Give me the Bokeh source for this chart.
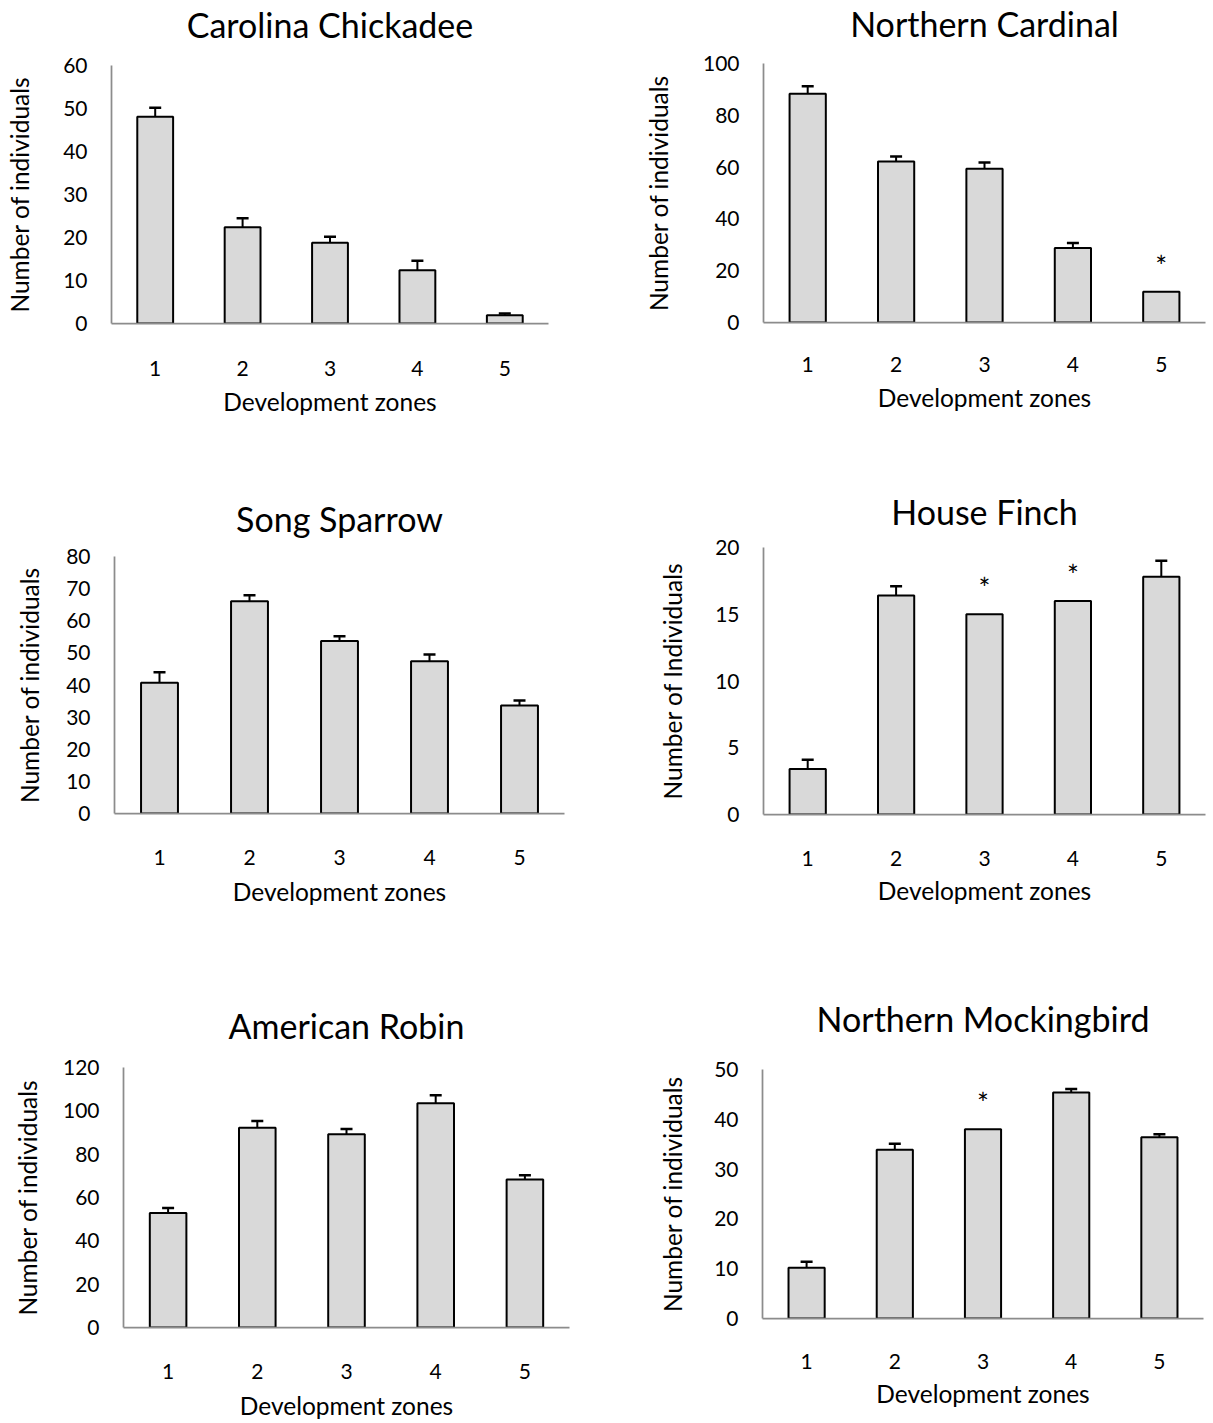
from bokeh.plotting import figure
from bokeh.layouts import column, row
from bokeh.models import Range1d, FixedTicker, Whisker, TeeHead, ColumnDataSource
from bokeh.core.properties import value
from bokeh.embed import file_html
from bokeh.resources import INLINE

# ---- data: mean counts per development zone, upper error (None = not shown) ----
zones = [1, 2, 3, 4, 5]
zone_labels = ["1", "2", "3", "4", "5"]

chickadee_mean = [48.1, 22.4, 18.8, 12.4, 1.9]
chickadee_err = [2.1, 2.1, 1.4, 2.2, 0.4]
chickadee_sig = [False, False, False, False, False]

cardinal_mean = [88.3, 62.2, 59.4, 28.8, 11.9]
cardinal_err = [2.9, 1.9, 2.4, 1.9, None]
cardinal_sig = [False, False, False, False, True]

sparrow_mean = [40.7, 66.1, 53.7, 47.4, 33.6]
sparrow_err = [3.3, 1.8, 1.5, 2.1, 1.6]
sparrow_sig = [False, False, False, False, False]

finch_mean = [3.4, 16.4, 15.0, 16.0, 17.8]
finch_err = [0.7, 0.7, None, None, 1.2]
finch_sig = [False, False, True, True, False]

robin_mean = [52.9, 92.2, 89.2, 103.5, 68.3]
robin_err = [2.3, 3.1, 2.4, 3.7, 2.0]
robin_sig = [False, False, False, False, False]

mocking_mean = [10.2, 33.9, 38.0, 45.4, 36.4]
mocking_err = [1.2, 1.2, None, 0.7, 0.6]
mocking_sig = [False, False, True, False, False]

titles = ["Carolina Chickadee", "Northern Cardinal", "Song Sparrow",
          "House Finch", "American Robin", "Northern Mockingbird"]
y_titles = ["Number of individuals", "Number of individuals", "Number of individuals",
            "Number of Individuals", "Number of individuals", "Number of individuals"]
y_max = [60, 100, 80, 20, 120, 50]
y_step = [10, 20, 10, 5, 20, 10]
x_title = "Development zones"

series = [
    (chickadee_mean, chickadee_err, chickadee_sig),
    (cardinal_mean, cardinal_err, cardinal_sig),
    (sparrow_mean, sparrow_err, sparrow_sig),
    (finch_mean, finch_err, finch_sig),
    (robin_mean, robin_err, robin_sig),
    (mocking_mean, mocking_err, mocking_sig),
]

# ---- layout: cell size, borders around the plotting frame, text standoffs (px) ----
# The first row is drawn PAGE_LIFT px taller and the page is lifted by the same
# amount, so the top titles get room above their frames.
FONT = "Lato"
PAGE_LIFT = 22
layout_cfg = [
    dict(w=606, h=470 + PAGE_LIFT, l=111, r=58, t=65 + PAGE_LIFT, b=147,
         title_so=41, tick_so=37, xlab_so=8, ylab_so=26),
    dict(w=607, h=470 + PAGE_LIFT, l=157, r=8, t=63 + PAGE_LIFT, b=148,
         title_so=40, tick_so=34, xlab_so=8, ylab_so=27),
    dict(w=606, h=490, l=114, r=42, t=86, b=147, title_so=35, tick_so=36, xlab_so=9, ylab_so=19),
    dict(w=607, h=490, l=157, r=8, t=77, b=146, title_so=32, tick_so=36, xlab_so=7, ylab_so=25),
    dict(w=606, h=463, l=123, r=37, t=107, b=96, title_so=44, tick_so=36, xlab_so=9, ylab_so=18),
    dict(w=607, h=463, l=156, r=10, t=109, b=105, title_so=61, tick_so=35, xlab_so=7, ylab_so=24),
]

AXIS_GRAY = "#8c8c8c"
BAR_FILL = "#d9d9d9"


def make_panel(i):
    mean, err, sig = series[i]
    cfg = layout_cfg[i]
    p = figure(
        width=cfg["w"], height=cfg["h"],
        x_range=Range1d(0.5, 5.5), y_range=Range1d(0, y_max[i]),
        output_backend="svg", toolbar_location=None,
        min_border_left=cfg["l"], min_border_right=cfg["r"],
        min_border_top=cfg["t"], min_border_bottom=cfg["b"],
    )
    p.background_fill_color = "white"
    p.border_fill_color = "white"
    p.outline_line_color = None
    p.xgrid.visible = False
    p.ygrid.visible = False

    p.title.text = titles[i]
    p.title.text_font = FONT
    p.title.text_font_size = "34px"
    p.title.text_font_style = "normal"
    p.title.text_color = "black"
    p.title.align = "center"
    p.title.standoff = cfg["title_so"]

    src = ColumnDataSource(dict(x=zones, top=mean))
    p.vbar(x="x", top="top", width=0.41, bottom=0, source=src,
           fill_color=BAR_FILL, line_color="black", line_width=2)

    ex = [z for z, e in zip(zones, err) if e is not None]
    lo = [m for m, e in zip(mean, err) if e is not None]
    hi = [m + e for m, e in zip(mean, err) if e is not None]
    wsrc = ColumnDataSource(dict(x=ex, lower=lo, upper=hi))
    p.add_layout(Whisker(source=wsrc, base="x", lower="lower", upper="upper",
                         dimension="height", line_color="black", line_width=2,
                         upper_head=TeeHead(size=12, line_width=2.5, line_color="black"),
                         lower_head=None, level="glyph"))

    # significance markers above the flagged bars
    sx = [z for z, s in zip(zones, sig) if s]
    sy = [m for m, s in zip(mean, sig) if s]
    if sx:
        p.text(x=sx, y=sy, text=["*"] * len(sx), y_offset=-26,
               text_align="center", text_baseline="middle",
               text_font=value(FONT), text_font_size="28px", text_color="black")

    for ax in (p.xaxis[0], p.yaxis[0]):
        ax.axis_line_color = AXIS_GRAY
        ax.axis_line_width = 1.75
        ax.major_tick_line_color = None
        ax.minor_tick_line_color = None
        ax.major_tick_out = 0
        ax.major_tick_in = 0
        ax.major_label_text_font = FONT
        ax.major_label_text_font_size = "21px"
        ax.major_label_text_color = "black"
        ax.axis_label_text_font = FONT
        ax.axis_label_text_font_size = "24.5px"
        ax.axis_label_text_font_style = "normal"
        ax.axis_label_text_color = "black"

    p.xaxis.ticker = FixedTicker(ticks=zones)
    p.xaxis.major_label_overrides = {z: lab for z, lab in zip(zones, zone_labels)}
    p.xaxis.major_label_standoff = cfg["tick_so"]
    p.xaxis.axis_label = x_title
    p.xaxis.axis_label_standoff = cfg["xlab_so"]

    p.yaxis.ticker = FixedTicker(ticks=list(range(0, y_max[i] + 1, y_step[i])))
    p.yaxis.major_label_standoff = 24
    p.yaxis.axis_label = y_titles[i]
    p.yaxis.axis_label_standoff = cfg["ylab_so"]
    return p


panels = [make_panel(i) for i in range(6)]
# each chart sits in its own column box so its frame keeps its own borders
cells = [column(p) for p in panels]
page = column(row(cells[0], cells[1]), row(cells[2], cells[3]), row(cells[4], cells[5]),
              styles={"margin-top": f"-{PAGE_LIFT}px"})

open("out.html", "w").write(file_html(page, INLINE))
